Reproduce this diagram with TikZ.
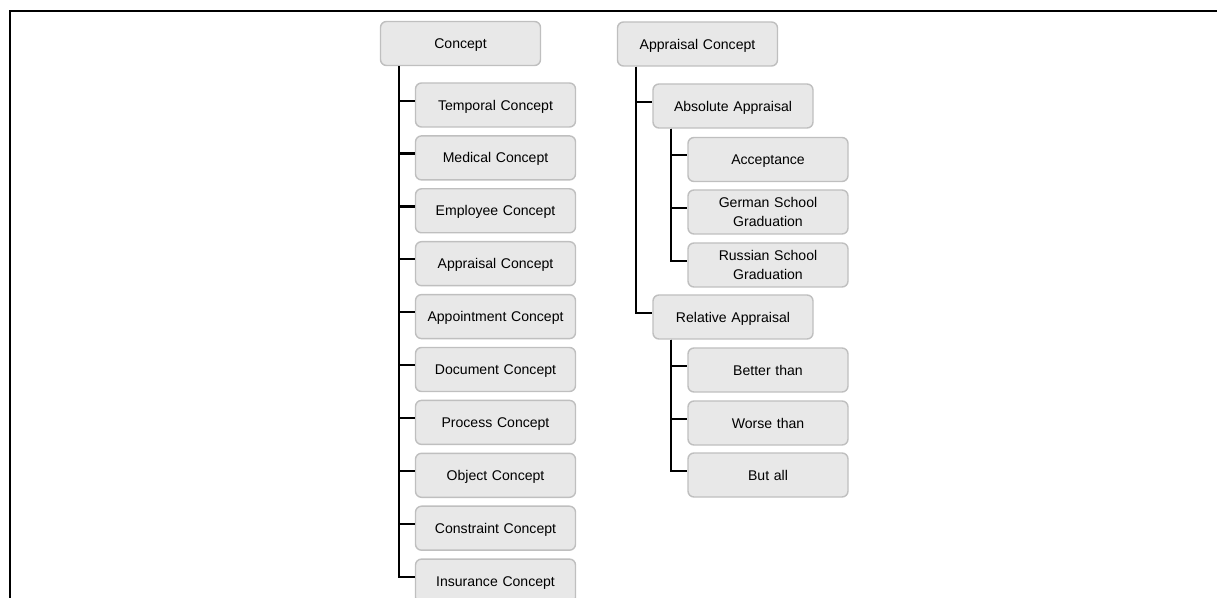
\documentclass[tikz,border=0pt]{standalone}
\usepackage{fontspec}
\setmainfont{Liberation Sans}
\usepackage{tikz}
\usetikzlibrary{positioning, calc}

\begin{document}
\begin{tikzpicture}[
  cbox/.style={rectangle, rounded corners=3.4pt, draw=black!25, line width=0.8pt,
               fill=black!9, minimum width=3.2cm, minimum height=0.88cm,
               inner sep=0pt, text width=3cm, align=center, text depth=0pt,
               font=\fontsize{8}{11}\selectfont},
  cbox2/.style={cbox, text depth=},
  tline/.style={black, line width=1.25pt}
]

% Page size and frame
\clip (0,0) rectangle (24.34,-11.96);
\draw[line width=1.2pt] (24.4,-0.22) -- (0.2,-0.22) -- (0.2,-12.1);

% Left tree: root and its children
\node[cbox] (concept) at (9.21,-0.87) {Concept};
\foreach \name/\txt [count=\i from 0] in {temporal/Temporal Concept, medical/Medical Concept,
    employee/Employee Concept, appraisal/Appraisal Concept, appointment/Appointment Concept,
    document/Document Concept, process/Process Concept, object/Object Concept,
    constraint/Constraint Concept, insurance/Insurance Concept} {
  \node[cbox] (\name) at (9.91,-2.1-1.058*\i) {\txt};
}

% Right tree
\node[cbox] (appr) at (13.95,-0.88) {Appraisal Concept};
\node[cbox] (absolute) at (14.66,-2.12) {Absolute Appraisal};
\node[cbox] (accept) at (15.36,-3.19) {Acceptance};
\node[cbox2] (german) at (15.36,-4.24) {German School\\Graduation};
\node[cbox2] (russian) at (15.36,-5.30) {Russian School\\Graduation};
\node[cbox] (relative) at (14.66,-6.34) {Relative Appraisal};
\node[cbox] (better) at (15.36,-7.40) {Better than};
\node[cbox] (worse) at (15.36,-8.46) {Worse than};
\node[cbox] (butall) at (15.36,-9.50) {But all};

% Trunk start points under each parent
\coordinate (ct) at ([xshift=0.39cm]concept.south west);
\coordinate (at) at ([xshift=0.39cm]appr.south west);
\coordinate (abt) at ([xshift=0.38cm]absolute.south west);
\coordinate (rt) at ([xshift=0.38cm]relative.south west);

% Connectors
\foreach \n in {temporal,medical,employee,appraisal,appointment,document,process,object,constraint,insurance}
  \draw[tline] (ct) |- ([yshift=2.5pt]\n.west);
\foreach \n in {absolute,relative}
  \draw[tline] (at) |- ([yshift=2.5pt]\n.west);
\foreach \n in {accept,german,russian}
  \draw[tline] (abt) |- ([yshift=2.5pt]\n.west);
\foreach \n in {better,worse,butall}
  \draw[tline] (rt) |- ([yshift=2.5pt]\n.west);

\end{tikzpicture}
\end{document}
